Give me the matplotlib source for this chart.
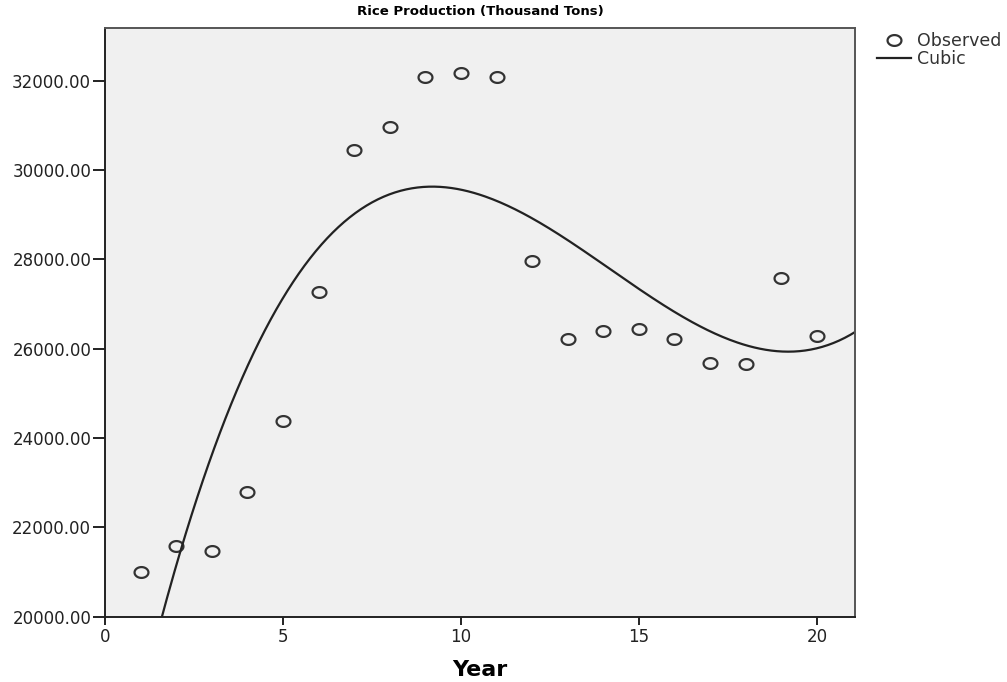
import numpy as np
import matplotlib
matplotlib.use("Agg")
import matplotlib.pyplot as plt
from matplotlib.path import Path

# observed rice production by year
year = np.arange(1, 21)
production = [20994, 21590, 21471, 22786, 24376, 27265, 30452, 30974, 32087, 32181,
              32094, 27965, 26226, 26392, 26437, 26219, 25689, 25652, 27592, 26287]
yticks = [20000, 22000, 24000, 26000, 28000, 30000, 32000]
xticks = [0, 5, 10, 15, 20]

# cubic fit, like SPSS curve estimation
coef = np.polyfit(year, production, 3)
xs = np.linspace(0, 21.1, 400)
ys = np.polyval(coef, xs)

# slightly squashed circle marker
t = np.linspace(0, 2 * np.pi, 60)
ell = Path(np.column_stack([np.cos(t), 0.78 * np.sin(t)]), closed=True)

fig = plt.figure(figsize=(10.07, 6.82), dpi=100)
ax = fig.add_axes([0.1043, 0.0957, 0.7447, 0.8633])
ax.set_facecolor("#F0F0F0")

ax.plot(year, production, linestyle="none", marker=ell, markersize=10,
        markerfacecolor="none", markeredgecolor="#333333", markeredgewidth=1.6,
        label="Observed")
ax.plot(xs, ys, color="#222222", lw=1.6, label="Cubic")

ax.set_xlim(0, 21.07)
ax.set_ylim(20000, 33185)
ax.set_xticks(xticks)
ax.set_yticks(yticks)
ax.set_yticklabels([f"{v:.2f}" for v in yticks])
ax.tick_params(axis="both", labelsize=12, width=1.4, color="#222222", labelcolor="#222222")
ax.tick_params(axis="x", length=6, pad=2)
ax.tick_params(axis="y", length=8.5, pad=1.5)

for s in ["left", "bottom"]:
    ax.spines[s].set_color("#222222")
    ax.spines[s].set_linewidth(1.4)
for s in ["top", "right"]:
    ax.spines[s].set_color("#555555")
    ax.spines[s].set_linewidth(1.4)

ax.set_title("Rice Production (Thousand Tons)", fontsize=9.5, fontweight="bold", pad=9.5)
ax.set_xlabel("Year", fontsize=16, fontweight="bold", labelpad=10)

fig.legend(loc="upper left", bbox_to_anchor=(0.862, 0.966), frameon=False,
           fontsize=12.5, handlelength=2.0, handletextpad=0.3, labelspacing=0.0,
           borderpad=0, labelcolor="#333333")

fig.savefig("out.png", dpi=100)
